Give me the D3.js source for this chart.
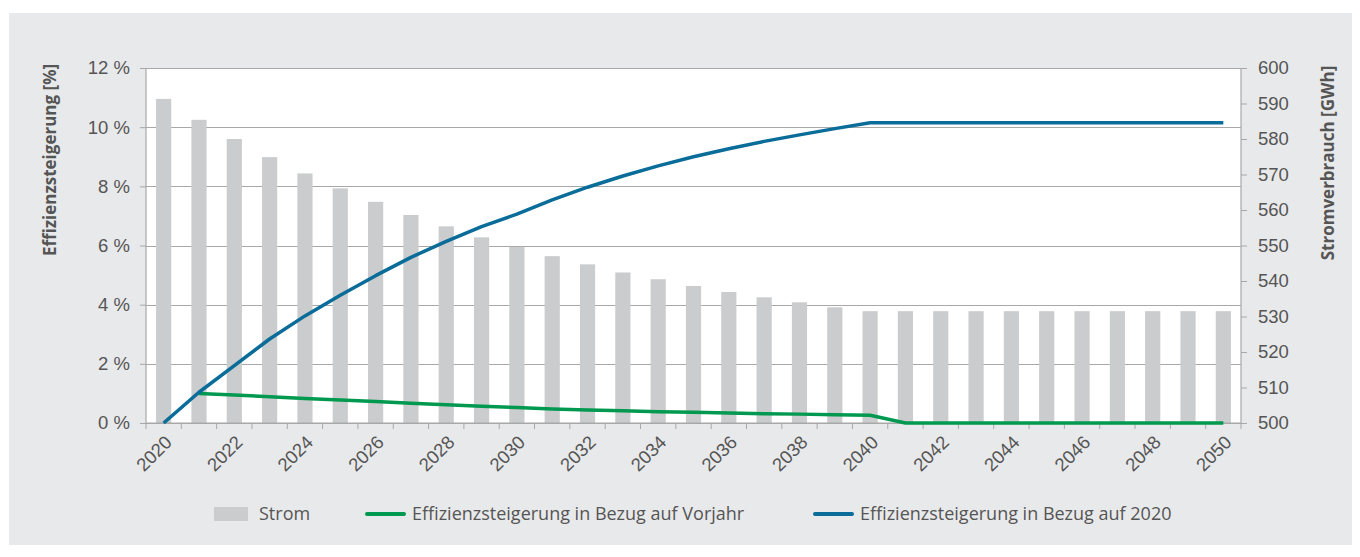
<!DOCTYPE html>
<html>
<head>
<meta charset="utf-8">
<script src="https://cdn.jsdelivr.net/npm/d3@7"></script>
<style>
  body { margin: 0; background: #fff; }
  svg { display: block; font-family: "Open Sans", sans-serif; }
</style>
</head>
<body>
<div id="chart"></div>
<script>
const WIDTH = 1360;
const HEIGHT = 557;

// Jahre (Kategorien)
const years = [2020, 2021, 2022, 2023, 2024, 2025, 2026, 2027, 2028, 2029,
  2030, 2031, 2032, 2033, 2034, 2035, 2036, 2037, 2038, 2039,
  2040, 2041, 2042, 2043, 2044, 2045, 2046, 2047, 2048, 2049, 2050];

// Stromverbrauch [GWh] (rechte Achse)
const strom = [591.3, 585.4, 580.0, 574.9, 570.3, 566.1, 562.3, 558.6, 555.4, 552.3,
  549.6, 547.0, 544.7, 542.4, 540.5, 538.6, 536.9, 535.4, 534.0, 532.6,
  531.5, 531.5, 531.5, 531.5, 531.5, 531.5, 531.5, 531.5, 531.5, 531.5, 531.5];

// Effizienzsteigerung in Bezug auf Vorjahr [%]
const vorjahr = [null, 1.0, 0.95, 0.89, 0.83, 0.78, 0.73, 0.67, 0.62, 0.57,
  0.52, 0.47, 0.44, 0.41, 0.38, 0.36, 0.34, 0.31, 0.30, 0.28,
  0.26, 0, 0, 0, 0, 0, 0, 0, 0, 0, 0];

// Effizienzsteigerung in Bezug auf 2020 [%]
const bezug2020 = [0, 1.04, 1.94, 2.84, 3.62, 4.32, 4.98, 5.6, 6.14, 6.64,
  7.06, 7.54, 7.97, 8.35, 8.69, 9.0, 9.27, 9.52, 9.74, 9.95,
  10.15, 10.15, 10.15, 10.15, 10.15, 10.15, 10.15, 10.15, 10.15, 10.15, 10.15];

const leftTicks = [0, 2, 4, 6, 8, 10, 12];
const rightTicks = [500, 510, 520, 530, 540, 550, 560, 570, 580, 590, 600];
const labelYears = years.filter(y => y % 2 === 0);

const legendItems = [
  { label: "Strom", type: "bar", color: "#cbcccd" },
  { label: "Effizienzsteigerung in Bezug auf Vorjahr", type: "line", color: "#00994f" },
  { label: "Effizienzsteigerung in Bezug auf 2020", type: "line", color: "#0a6c99" }
];

const TEXT = "#555555";
const GRID = "#a8a8a8";

const plot = { left: 146, right: 1241, top: 68, bottom: 423 };

const svg = d3.select("#chart").append("svg")
  .attr("width", WIDTH)
  .attr("height", HEIGHT);

// grauer Hintergrund
svg.append("rect")
  .attr("x", 9).attr("y", 13)
  .attr("width", 1343).attr("height", 532)
  .attr("fill", "#e8e9ea");

// Plotfläche
svg.append("rect")
  .attr("x", plot.left).attr("y", plot.top)
  .attr("width", plot.right - plot.left).attr("height", plot.bottom - plot.top)
  .attr("fill", "#fff");

const x = d3.scaleBand()
  .domain(years)
  .range([plot.left, plot.right])
  .paddingInner(0.57)
  .paddingOuter(0.285);

const yLeft = d3.scaleLinear().domain([0, 12]).range([plot.bottom, plot.top]);
const yRight = d3.scaleLinear().domain([500, 600]).range([plot.bottom, plot.top]);

// Gitterlinien
svg.append("g")
  .selectAll("line")
  .data(leftTicks)
  .enter()
  .append("line")
  .attr("x1", plot.left).attr("x2", plot.right)
  .attr("y1", d => Math.round(yLeft(d)) + 0.5)
  .attr("y2", d => Math.round(yLeft(d)) + 0.5)
  .attr("stroke", GRID)
  .attr("stroke-width", 1.2);

// Balken Strom
svg.append("g")
  .selectAll("rect")
  .data(years)
  .enter()
  .append("rect")
  .attr("x", d => x(d))
  .attr("width", x.bandwidth())
  .attr("y", (d, i) => yRight(strom[i]))
  .attr("height", (d, i) => yRight(500) - yRight(strom[i]))
  .attr("fill", "#cbcccd");

// Achsen
const axisLeft = svg.append("g")
  .attr("transform", `translate(${plot.left},0)`)
  .call(d3.axisLeft(yLeft).tickValues(leftTicks).tickSize(6).tickPadding(10)
    .tickFormat(d => d + " %"));

const axisRight = svg.append("g")
  .attr("transform", `translate(${plot.right},0)`)
  .call(d3.axisRight(yRight).tickValues(rightTicks).tickSize(6).tickPadding(11));

const axisBottom = svg.append("g")
  .attr("transform", `translate(0,${plot.bottom})`)
  .call(d3.axisBottom(x).tickSize(0).tickFormat(d => labelYears.includes(d) ? d : ""));

// Tickmarken an den Kategoriegrenzen
const bounds = years.map(d => x(d) - x.step() * x.paddingInner() / 2).concat([plot.right]);
axisBottom.selectAll(".bound")
  .data(bounds)
  .enter()
  .append("line")
  .attr("class", "bound")
  .attr("x1", d => d).attr("x2", d => d)
  .attr("y1", 0).attr("y2", 6)
  .attr("stroke", GRID);

[axisLeft, axisRight, axisBottom].forEach(a => {
  a.select(".domain").attr("stroke", GRID).attr("stroke-width", 1.2);
  a.selectAll(".tick line").attr("stroke", GRID);
  a.selectAll("text").attr("fill", TEXT).style("font-size", "18.5px");
});
axisLeft.select(".domain").attr("d", `M0,${plot.bottom}V${plot.top}`);
axisRight.select(".domain").attr("d", `M0,${plot.bottom}V${plot.top}`);
axisBottom.select(".domain").attr("d", `M${plot.left},0H${plot.right}`);

axisBottom.selectAll(".tick text")
  .attr("text-anchor", "end")
  .attr("transform", "translate(0,11) rotate(-45)")
  .attr("x", 0).attr("y", 0)
  .attr("dx", 0).attr("dy", "0.72em");

// Linien
const line = d3.line()
  .defined(d => d.v !== null)
  .x(d => x(d.year) + x.bandwidth() / 2)
  .y(d => yLeft(d.v));

svg.append("path")
  .datum(years.map((year, i) => ({ year, v: vorjahr[i] })))
  .attr("d", line)
  .attr("fill", "none")
  .attr("stroke", legendItems[1].color)
  .attr("stroke-width", 3.5)
  .attr("stroke-linejoin", "round");

svg.append("path")
  .datum(years.map((year, i) => ({ year, v: bezug2020[i] })))
  .attr("d", line)
  .attr("fill", "none")
  .attr("stroke", legendItems[2].color)
  .attr("stroke-width", 3.5)
  .attr("stroke-linejoin", "round");

// Achsentitel
svg.append("text")
  .attr("transform", "translate(56,160) rotate(-90)")
  .attr("text-anchor", "middle")
  .attr("fill", TEXT)
  .style("font-size", "17px")
  .style("font-weight", "bold")
  .text("Effizienzsteigerung [%]");

svg.append("text")
  .attr("transform", "translate(1334,163) rotate(-90)")
  .attr("text-anchor", "middle")
  .attr("fill", TEXT)
  .style("font-size", "17px")
  .style("font-weight", "bold")
  .text("Stromverbrauch [GWh]");

// Legende
const legendX = [214, 367, 815];
const legend = svg.append("g")
  .selectAll("g")
  .data(legendItems)
  .enter()
  .append("g")
  .attr("transform", (d, i) => `translate(${legendX[i]},514)`);

legend.each(function (d) {
  const g = d3.select(this);
  if (d.type === "bar") {
    g.append("rect").attr("x", 0).attr("y", -7).attr("width", 34).attr("height", 14).attr("fill", d.color);
  } else {
    g.append("line").attr("x1", 0).attr("x2", 37).attr("y1", 0).attr("y2", 0)
      .attr("stroke", d.color).attr("stroke-width", 4).attr("stroke-linecap", "round");
  }
  g.append("text")
    .attr("x", 45)
    .attr("dy", "0.35em")
    .attr("fill", TEXT)
    .style("font-size", "18px")
    .text(d.label);
});
</script>
</body>
</html>
